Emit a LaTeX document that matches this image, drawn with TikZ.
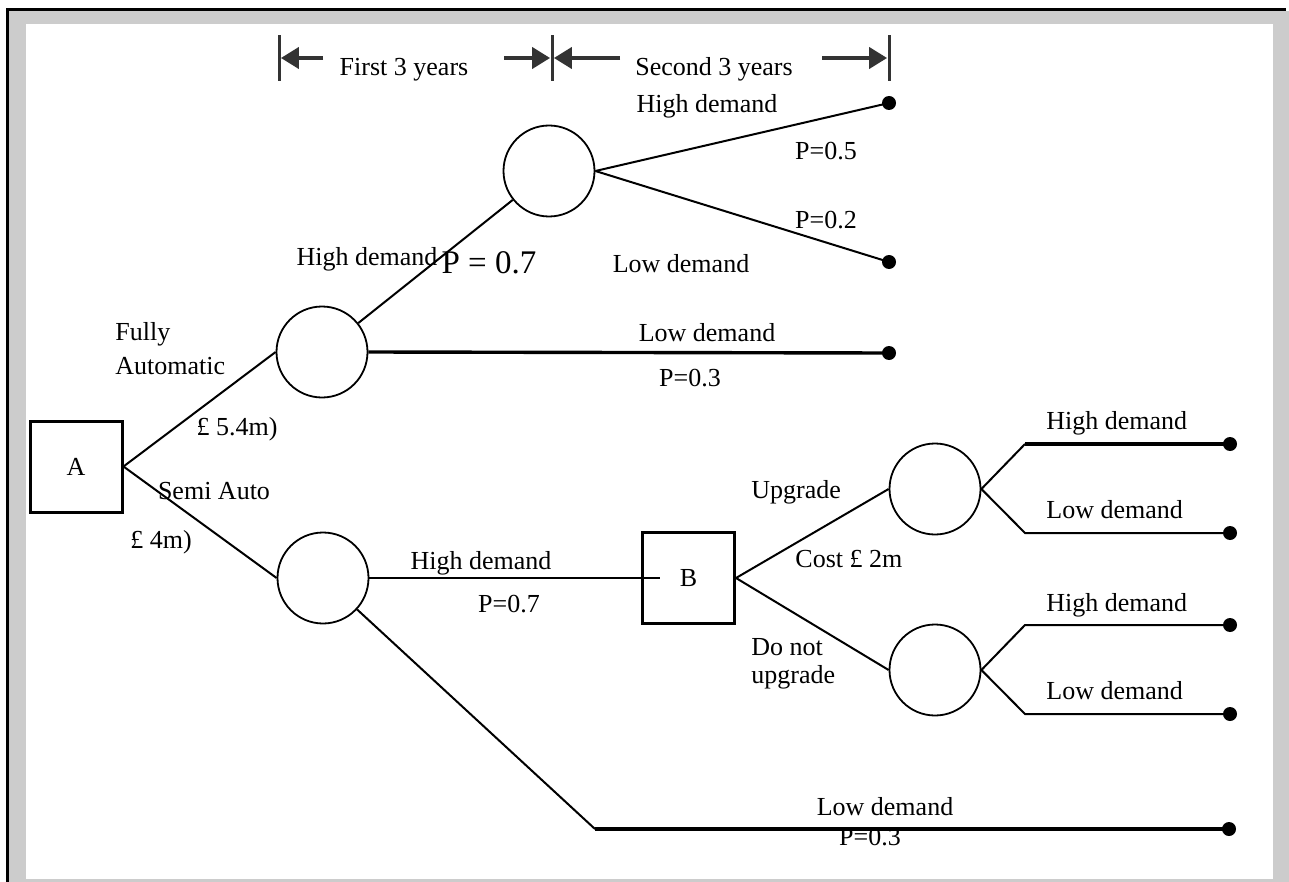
\documentclass[tikz,border=0pt]{standalone}
\usepackage{fontspec}
\setmainfont{Liberation Serif}
\usetikzlibrary{arrows.meta}
\definecolor{framegray}{HTML}{CCCCCC}
\definecolor{spangray}{HTML}{333333}

\begin{document}
\begin{tikzpicture}[x=0.5pt, y=-0.5pt,
  decision/.style={draw, line width=1.5pt, minimum width=46pt, minimum height=45.5pt,
                   inner sep=0pt, font=\fontsize{13}{15}\selectfont},
  chance/.style={draw, circle, line width=0.9pt, minimum size=45.5pt, inner sep=0pt},
  tip/.style={circle, fill, inner sep=0pt, minimum size=7pt},
  branch/.style={line width=1pt},
  heavy/.style={line width=1.7pt},
  lab/.style={font=\fontsize{13}{17}\selectfont, anchor=base, inner sep=0pt},
  labl/.style={lab, anchor=base west, align=left},
  bar/.style={fill=spangray, inner sep=0pt, minimum width=1.5pt, minimum height=23pt},
  span/.style={-{Triangle[length=9pt, width=10.5pt]}, line width=2pt, draw=spangray},
]
\useasboundingbox (0,0) rectangle (1289,882);
% frame
\fill[white] (0,0) rectangle (1289,882);
\fill[framegray] (9,11) rectangle (1289,882);
\fill[white] (26,24) rectangle (1273,879);
\draw[line width=1.5pt] (6,10) -- (1286,10);
\draw[line width=1.5pt] (7.5,10) -- (7.5,882);

% time spans
\node[bar] (b1) at (279,58) {};
\node[bar] (b2) at (552,58) {};
\node[bar] (b3) at (889,58) {};
\coordinate (s1) at (323,58);
\coordinate (s2) at (504,58);
\coordinate (s3) at (620,58);
\coordinate (s4) at (822,58);
\draw[span] (s1) -- (b1.east);
\draw[span] (s2) -- (b2.west);
\draw[span] (s3) -- (b2.east);
\draw[span] (s4) -- (b3.west);
\node[lab] at (404,76) {First 3 years};
\node[lab] at (714,76) {Second 3 years};

% decision and chance nodes
\node[decision] (A) at (76,466.5) {A};
\node[chance] (c1) at (322,352) {};
\node[chance] (c2) at (549,171) {};
\node[chance] (c3) at (323,578) {};
\node[decision] (B) at (688.5,578) {B};
\node[chance] (c4) at (935,489) {};
\node[chance] (c5) at (935,670) {};

% end points
\node[tip] (e1) at (889,103) {};
\node[tip] (e2) at (889,262) {};
\node[tip] (e3) at (889,353) {};
\node[tip] (e4) at (1230,444) {};
\node[tip] (e5) at (1230,533) {};
\node[tip] (e6) at (1230,625) {};
\node[tip] (e7) at (1230,714) {};
\node[tip] (e8) at (1229,829) {};
\coordinate (k4) at (1025,444);
\coordinate (k5) at (1025,533);
\coordinate (k6) at (1025,625);
\coordinate (k7) at (1025,714);
\coordinate (k8) at (595,829);

% branches
\draw[branch] (A.east) -- (c1.west);
\draw[branch] (A.east) -- (c3.west);
\draw[branch] (c1) -- (c2);
\draw[branch] (c2.east) -- (e1.center);
\draw[branch] (c2.east) -- (e2.center);
\draw[heavy] (c1.east) -- (e3.center);
\draw[branch] (c3.east) -- ([xshift=9.5pt]B.west);
\draw[branch] (c3) -- (k8);
\draw[heavy] (k8) -- (e8.center);
\draw[branch] (B.east) -- (c4.west);
\draw[branch] (B.east) -- (c5.west);
\draw[branch] (c4.east) -- (k4);
\draw[heavy] (k4) -- (e4.center);
\draw[branch] (c4.east) -- (k5) -- (e5.center);
\draw[branch] (c5.east) -- (k6) -- (e6.center);
\draw[branch] (c5.east) -- (k7) -- (e7.center);

% labels
\node[labl] at (115,374) {Fully\\Automatic};
\node[lab] at (237,435) {£ 5.4m)};
\node[lab] at (214,499) {Semi Auto};
\node[lab] at (161,548) {£ 4m)};
\node[lab] at (367,265) {High demand};
\node[lab, font=\fontsize{16.5}{19}\selectfont] at (489,273) {P = 0.7};
\node[lab] at (707,113) {High demand};
\node[lab] at (826,160) {P=0.5};
\node[lab] at (826,228) {P=0.2};
\node[lab] at (681,272) {Low demand};
\node[lab] at (707,341) {Low demand};
\node[lab] at (690,386) {P=0.3};
\node[lab] at (481,569) {High demand};
\node[lab] at (509,612) {P=0.7};
\node[labl] at (751,498) {Upgrade};
\node[labl] at (795,567) {Cost £ 2m};
\node[labl, font=\fontsize{13}{14}\selectfont] at (751,683) {Do not\\upgrade};
\node[labl] at (1046,429) {High demand};
\node[labl] at (1046,518) {Low demand};
\node[labl] at (1046,611) {High demand};
\node[labl] at (1046,699) {Low demand};
\node[lab] at (885,815) {Low demand};
\node[lab] at (870,845) {P=0.3};
\end{tikzpicture}
\end{document}
